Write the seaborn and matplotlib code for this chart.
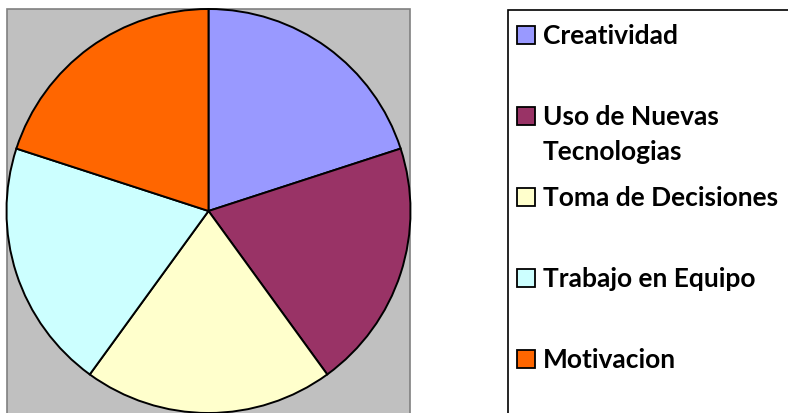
import matplotlib
matplotlib.use("Agg")
import matplotlib.pyplot as plt
from matplotlib.patches import Rectangle
import seaborn as sns

# datos del grafico
categorias = ["Creatividad", "Uso de Nuevas\nTecnologias", "Toma de Decisiones",
              "Trabajo en Equipo", "Motivacion"]
valores = [20, 20, 20, 20, 20]
colores = ["#9999FF", "#993366", "#FFFFCC", "#CCFFFF", "#FF6600"]

sns.set_theme(style="white")
plt.rcParams['font.family'] = ['Lato', 'DejaVu Sans']

W, H = 788, 413
fig = plt.figure(figsize=(W / 100, H / 100), dpi=100)
ax = fig.add_axes([0, 0, 1, 1])

# area de trazado gris
ax.add_patch(Rectangle((7, -10), 403, H - 9 + 10, facecolor="#C0C0C0",
                       edgecolor="#808080", linewidth=1.2, zorder=0))

# pastel
ax.pie(valores, colors=sns.color_palette(colores), startangle=90, counterclock=False,
       center=(208.5, H - 211), radius=202,
       wedgeprops=dict(edgecolor="black", linewidth=1.4))

# leyenda dibujada a mano
ax.add_patch(Rectangle((508, -10), 300, H - 10 + 10, facecolor="white",
                       edgecolor="black", linewidth=1.2, zorder=1))
for i, (cat, col) in enumerate(zip(categorias, colores)):
    yc = H - (34.5 + 81 * i)
    ax.add_patch(Rectangle((517, yc - 9), 18, 18, facecolor=col,
                           edgecolor="black", linewidth=1.3, zorder=2))
    for k, linea in enumerate(cat.split("\n")):
        ax.text(543, yc - 9.5 - 35 * k, linea, fontsize=19, fontweight="bold",
                color="black", va="baseline", ha="left", zorder=3)

ax.set_xlim(0, W)
ax.set_ylim(0, H)
ax.set_aspect("auto")
ax.axis("off")

fig.savefig("out.png", dpi=100)
